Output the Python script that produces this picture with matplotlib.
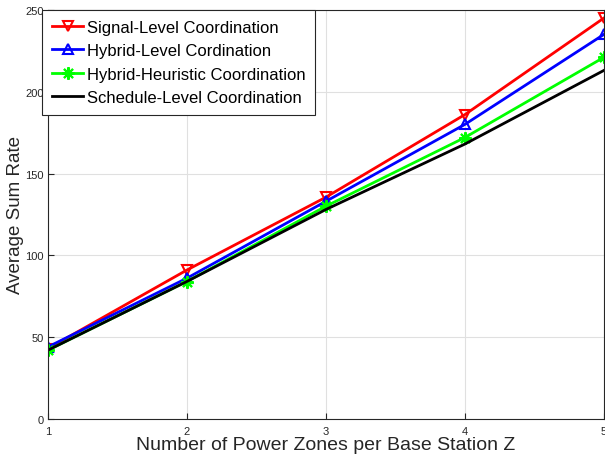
import matplotlib.pyplot as plt

plt.rcParams["font.family"] = ["Liberation Sans", "DejaVu Sans"]

# number of power zones per base station
zones = [1, 2, 3, 4, 5]

# average sum rate per scheme
signal_level = [43, 91, 135.5, 186, 245]
hybrid_level = [44, 86, 133, 180, 235]
hybrid_heur = [42, 84, 130, 172, 221]
schedule_level = [42, 84, 128, 168, 213]

fig = plt.figure(figsize=(6.05, 4.56), dpi=100)
ax = fig.add_axes([0.079, 0.079, 0.919, 0.897])

ax.plot(zones, signal_level, "-v", color="red", lw=2, ms=7, mfc="none", mew=1.5,
        label="Signal-Level Coordination")
ax.plot(zones, hybrid_level, "-^", color="blue", lw=2, ms=7, mfc="none", mew=1.5,
        label="Hybrid-Level Cordination")
ax.plot(zones, hybrid_heur, "-", marker=(8, 2, 0), color="#00ff00", lw=2, ms=9, mew=1.5,
        label="Hybrid-Heuristic Coordination")
ax.plot(zones, schedule_level, "-", color="black", lw=2,
        label="Schedule-Level Coordination")

ax.set_xlim(1, 5)
ax.set_ylim(0, 250)
ax.set_xticks(zones)
ax.set_yticks([0, 50, 100, 150, 200, 250])
ax.tick_params(direction="in", labelsize=8, colors="#262626", length=4)
ax.tick_params(axis="x", pad=5)
ax.tick_params(axis="y", pad=3)
ax.grid(True, color="#e0e0e0", lw=0.8)
for s in ax.spines.values():
    s.set_color("#262626")
    s.set_linewidth(0.8)

ax.set_xlabel("Number of Power Zones per Base Station Z", fontsize=14, color="#262626", labelpad=0)
ax.set_ylabel("Average Sum Rate", fontsize=13.5, color="#262626", labelpad=1)

leg = ax.legend(loc="upper left", fontsize=12, frameon=True, fancybox=False,
                borderaxespad=0, handlelength=1.9, handletextpad=0.2,
                labelspacing=0.5, borderpad=0.6, bbox_to_anchor=(-0.011, 1.0))
leg.get_frame().set_edgecolor("#262626")
leg.get_frame().set_linewidth(0.8)
leg.get_frame().set_alpha(1)

fig.savefig("out.png", dpi=100)
